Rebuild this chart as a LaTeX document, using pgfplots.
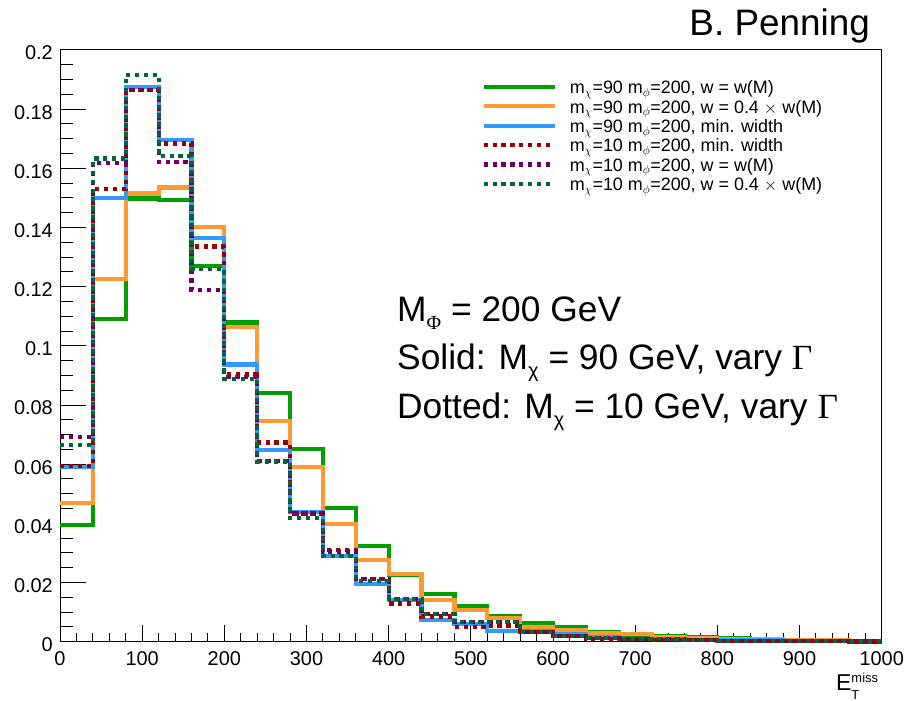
\documentclass[border=0pt]{standalone}
\usepackage{fontspec}
\setmainfont{Liberation Sans}
\newfontfamily\serifgr{Liberation Serif}
\usepackage{pgfplots}
\usepackage{pgfplotstable}
\pgfplotsset{compat=1.18}

\definecolor{cG}{RGB}{0,158,0}
\definecolor{cO}{RGB}{255,153,51}
\definecolor{cB}{RGB}{51,153,255}
\definecolor{cR}{RGB}{153,0,0}
\definecolor{cP}{RGB}{107,0,107}
\definecolor{cD}{RGB}{0,102,51}

\newcommand{\bigsub}[1]{\raisebox{-8bp}{\fontsize{20}{20}\selectfont #1}}

\pgfplotstableread{
x    G       O       B       R       P       D
0    0.0394  0.0468  0.0590  0.0595  0.0692  0.0666
40   0.1090  0.1226  0.1500  0.1529  0.1619  0.1633
80   0.1498  0.1515  0.1874  0.1866  0.1866  0.1916
120  0.1492  0.1535  0.1696  0.1684  0.1622  0.1641
160  0.1271  0.1401  0.1365  0.1336  0.1190  0.1260
200  0.1079  0.1064  0.0937  0.0903  0.0895  0.0889
240  0.0841  0.0745  0.0649  0.0673  0.0610  0.0609
280  0.0652  0.0590  0.0439  0.0433  0.0433  0.0417
320  0.0451  0.0397  0.0289  0.0309  0.0305  0.0290
360  0.0323  0.0275  0.0194  0.0213  0.0213  0.0205
400  0.0225  0.0228  0.0142  0.0129  0.0145  0.0145
440  0.0160  0.0142  0.0074  0.0085  0.0094  0.0094
480  0.0120  0.0108  0.0060  0.0049  0.0066  0.0066
520  0.0088  0.0080  0.0037  0.0055  0.0066  0.0066
560  0.0062  0.0051  0.0037  0.0032  0.0032  0.0032
600  0.0051  0.0040  0.0025  0.0020  0.0020  0.0020
640  0.0032  0.0030  0.0015  0.0010  0.0012  0.0012
680  0.0024  0.0026  0.0010  0.0010  0.0010  0.0010
720  0.0018  0.0017  0.0008  0.0007  0.0008  0.0008
760  0.0017  0.0012  0.0006  0.0005  0.0005  0.0005
800  0.0012  0.0010  0.0004  0.0003  0.0003  0.0003
840  0.0008  0.0009  0.0004  0.0003  0.0003  0.0003
880  0.0006  0.0007  0.0003  0.0002  0.0002  0.0002
920  0.0004  0.0005  0.0002  0.0002  0.0002  0.0002
960  0.0003  0.0003  0.0002  0.0001  0.0001  0.0001
1000 0.0003  0.0003  0.0002  0.0001  0.0001  0.0001
}\histdata

\begin{document}
\begin{tikzpicture}
\path[use as bounding box] (-60bp,-59.3bp) rectangle (847bp,641.7bp);
\begin{axis}[
  scale only axis,
  width=821.7bp, height=591.7bp,
  xmin=0, xmax=1000, ymin=0, ymax=0.2,
  clip=false,
  axis line style={line width=1bp},
  tick style={line width=1bp, black},
  tick align=inside,
  xtick pos=lower, ytick pos=left,
  xtick={0,100,200,300,400,500,600,700,800,900,1000},
  xticklabels={0,100,200,300,400,500,600,700,800,900,1000},
  ytick={0,0.02,0.04,0.06,0.08,0.1,0.12,0.14,0.16,0.18,0.2},
  yticklabels={0,0.02,0.04,0.06,0.08,0.1,0.12,0.14,0.16,0.18,0.2},
  minor x tick num=4,
  minor y tick num=3,
  major tick length=26bp,
  minor tick length=13bp,
  xtick style={/pgfplots/major tick length=17bp,/pgfplots/minor tick length=8.5bp},
  ticklabel style={font=\fontsize{20}{24}\selectfont},
  xticklabel style={anchor=base, inner sep=0pt, yshift=-24bp},
  yticklabel style={anchor=east, inner sep=0pt, xshift=-7bp, yshift=-3bp},
  scaled y ticks=false,
  legend style={draw=none, fill=none, at={(0.5128,0.9475)}, anchor=north west,
    inner sep=0pt, row sep=0pt,
    font=\fontsize{18}{19}\selectfont,
    nodes={inner sep=0pt, text height=12.5bp, text depth=6.9bp},
    /tikz/every odd column/.append style={column sep=13bp}},
  legend cell align=left,
  legend image code/.code={\draw[#1] (0bp,4bp) -- (71bp,4bp);},
]
\addplot[const plot, cG, line width=4.2bp] table[x=x,y=G] {\histdata};
\addlegendentry{m$_\chi$=90 m$_\phi$=200, w = w(M)}
\addplot[const plot, cO, line width=4.2bp] table[x=x,y=O] {\histdata};
\addlegendentry{m$_\chi$=90 m$_\phi$=200, w = 0.4 $\times$ w(M)}
\addplot[const plot, cB, line width=4.2bp] table[x=x,y=B] {\histdata};
\addlegendentry{m$_\chi$=90 m$_\phi$=200, min. width}
\addplot[const plot, cR, line width=4.2bp, line cap=butt, dash pattern=on 4.2bp off 4.7bp] table[x=x,y=R] {\histdata};
\addlegendentry{m$_\chi$=10 m$_\phi$=200, min. width}
\addplot[const plot, cP, line width=4.2bp, line cap=butt, dash pattern=on 4.2bp off 4.7bp] table[x=x,y=P] {\histdata};
\addlegendentry{m$_\chi$=10 m$_\phi$=200, w = w(M)}
\addplot[const plot, cD, line width=4.2bp, line cap=butt, dash pattern=on 4.2bp off 4.7bp] table[x=x,y=D] {\histdata};
\addlegendentry{m$_\chi$=10 m$_\phi$=200, w = 0.4 $\times$ w(M)}
\end{axis}
\node[anchor=base west, inner sep=0pt, font=\fontsize{35.5}{40}\selectfont] at (337bp,320bp) {M\bigsub{\serifgr Φ} = 200 GeV};
\node[anchor=base west, inner sep=0pt, font=\fontsize{35.5}{40}\selectfont] at (337bp,272.4bp) {Solid: M\bigsub{χ} = 90 GeV, vary {\serifgr Γ}};
\node[anchor=base west, inner sep=0pt, font=\fontsize{35.5}{40}\selectfont] at (337bp,223.4bp) {Dotted: M\bigsub{χ} = 10 GeV, vary {\serifgr Γ}};
\node[anchor=base east, inner sep=0pt, font=\fontsize{37}{40}\selectfont] at (810bp,605.7bp) {B. Penning};
\node[anchor=base west, inner sep=0pt, font=\fontsize{23}{26}\selectfont] at (776bp,-48.3bp) {E\rlap{\raisebox{8bp}{\fontsize{13}{13}\selectfont miss}}\raisebox{-9.5bp}{\fontsize{13}{13}\selectfont T}};
\end{tikzpicture}
\end{document}
